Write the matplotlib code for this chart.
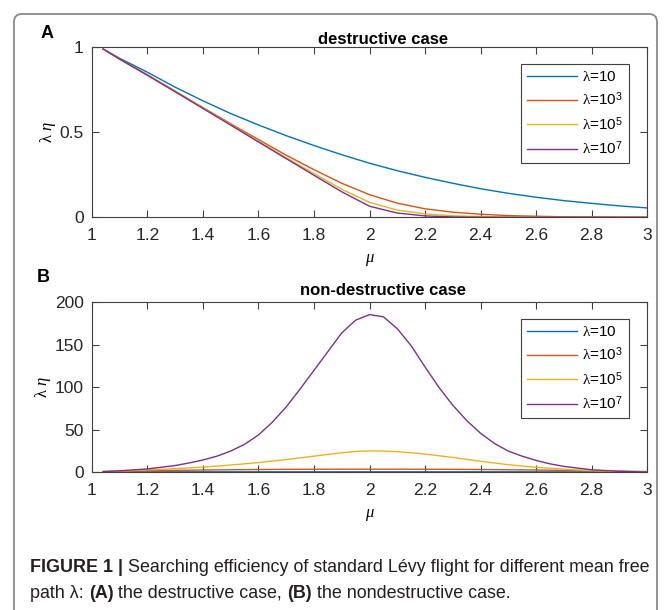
import matplotlib
matplotlib.use("Agg")
import matplotlib.pyplot as plt
from matplotlib.patches import FancyBboxPatch

# values
mu_d = [1.04, 1.1, 1.2, 1.3, 1.4, 1.5, 1.6, 1.7, 1.8, 1.9, 2.0,
        2.1, 2.2, 2.3, 2.4, 2.5, 2.6, 2.7, 2.8, 2.9, 3.0]
d_l1 = [0.99, 0.935, 0.853, 0.765, 0.685, 0.61, 0.543, 0.48, 0.422, 0.368, 0.318,
        0.274, 0.235, 0.2, 0.168, 0.141, 0.118, 0.098, 0.082, 0.067, 0.055]
d_l3 = [0.99, 0.93, 0.838, 0.742, 0.645, 0.55, 0.457, 0.365, 0.28, 0.2, 0.133,
        0.083, 0.05, 0.03, 0.018, 0.01, 0.006, 0.003, 0.002, 0.001, 0.0005]
d_l5 = [0.99, 0.93, 0.836, 0.74, 0.642, 0.545, 0.447, 0.35, 0.257, 0.165, 0.088,
        0.042, 0.02, 0.009, 0.004, 0.001, 0.0, 0.0, 0.0, 0.0, 0.0]
d_l7 = [0.99, 0.93, 0.835, 0.738, 0.64, 0.542, 0.443, 0.345, 0.247, 0.15, 0.065,
        0.025, 0.008, 0.002, 0.0, 0.0, 0.0, 0.0, 0.0, 0.0, 0.0]

mu_nd = [1.04, 1.1, 1.2,
         1.3, 1.35, 1.4, 1.45, 1.5, 1.55, 1.6, 1.65, 1.7, 1.75, 1.8, 1.85, 1.9, 1.95,
         2.0, 2.05, 2.1, 2.15, 2.2, 2.25, 2.3, 2.35, 2.4, 2.45, 2.5, 2.55, 2.6, 2.65, 2.7,
         2.8, 2.9, 3.0]
nd_l1 = [0.6, 0.6, 0.6,
         0.6, 0.6, 0.6, 0.6, 0.6, 0.6, 0.6, 0.6, 0.6, 0.6, 0.6, 0.6, 0.6, 0.6,
         0.6, 0.6, 0.6, 0.6, 0.6, 0.6, 0.6, 0.6, 0.6, 0.6, 0.6, 0.6, 0.55, 0.55, 0.55,
         0.5, 0.5, 0.45]
nd_l3 = [0.9, 1.2, 1.8,
         2.3, 2.5, 2.7, 2.85, 3.0, 3.15, 3.3, 3.4, 3.5, 3.55, 3.6, 3.65, 3.7, 3.7,
         3.7, 3.7, 3.7, 3.65, 3.6, 3.55, 3.5, 3.4, 3.3, 3.15, 3.0, 2.85, 2.7, 2.5, 2.3,
         1.9, 1.4, 0.9]
nd_l5 = [1.0, 1.6, 2.8,
         4.3, 5.2, 6.2, 7.3, 8.6, 10, 11.5, 13.2, 15, 17, 19, 21, 23, 24.5,
         25.2, 25, 24.3, 23, 21.5, 19.5, 17.5, 15.2, 13, 11, 9, 7.4, 6, 4.8, 3.7,
         2, 1, 0.4]
nd_l7 = [0.8, 1.8, 4,
         8, 11, 14.5, 19, 25, 33, 44, 59, 77, 98, 120, 142, 164, 179,
         185.5, 183, 169, 149, 124, 100, 79, 61, 46, 34, 25, 19, 14, 10, 7,
         3, 1.2, 0.3]

labels = [r'$\mathrm{\lambda}$=10', r'$\mathrm{\lambda}$=10$^{\mathsf{3}}$',
          r'$\mathrm{\lambda}$=10$^{\mathsf{5}}$', r'$\mathrm{\lambda}$=10$^{\mathsf{7}}$']
colors = ['#0072BD', '#D95319', '#EDB120', '#7E2F8E']
xticks = [1, 1.2, 1.4, 1.6, 1.8, 2, 2.2, 2.4, 2.6, 2.8, 3]
xticklabels = ['1', '1.2', '1.4', '1.6', '1.8', '2', '2.2', '2.4', '2.6', '2.8', '3']

plt.rcParams['font.family'] = ['Liberation Sans', 'DejaVu Sans']
plt.rcParams['mathtext.fontset'] = 'custom'
plt.rcParams['mathtext.rm'] = 'Liberation Serif'
plt.rcParams['mathtext.it'] = 'Liberation Serif:italic'
plt.rcParams['mathtext.sf'] = 'Liberation Sans'

fig = plt.figure(figsize=(6.7, 6.1), dpi=100)

# outer frame of the figure panel
frame = FancyBboxPatch((14, -30), 643, 610 - 14 + 30,
                       boxstyle="round,pad=0,rounding_size=8",
                       transform=None, facecolor='none', edgecolor='#8a8a8a', lw=1.3)
fig.patches.append(frame)

ax1 = fig.add_axes([0.1373, 0.6438, 0.8284, 0.2787])
ax2 = fig.add_axes([0.1373, 0.2257, 0.8284, 0.2787])

for yv, c, lab in zip([d_l1, d_l3, d_l5, d_l7], colors, labels):
    ax1.plot(mu_d, yv, color=c, lw=1.0, label=lab)
for yv, c, lab in zip([nd_l1, nd_l3, nd_l5, nd_l7], colors, labels):
    ax2.plot(mu_nd, yv, color=c, lw=1.0, label=lab)

ax1.set_ylim(0, 1)
ax1.set_yticks([0, 0.5, 1])
ax1.set_yticklabels(['0', '0.5', '1'])
ax2.set_ylim(0, 200)
ax2.set_yticks([0, 50, 100, 150, 200])

for ax, ttl, tpad in [(ax1, 'destructive case', 2), (ax2, 'non-destructive case', 5)]:
    ax.set_xlim(1, 3)
    ax.set_xticks(xticks)
    ax.set_xticklabels(xticklabels)
    ax.tick_params(direction='in', top=True, right=True, length=5, width=0.8,
                   colors='#404040', labelcolor='#262626', labelsize=12.5)
    ax.tick_params(axis='x', pad=8)
    ax.tick_params(axis='y', pad=6)
    for s in ax.spines.values():
        s.set_color('#404040')
        s.set_linewidth(0.8)
    ax.set_title(ttl, fontsize=12, fontweight='bold', x=0.524, pad=tpad)
    ax.set_xlabel(r'$\mu$', fontsize=12, labelpad=6)
    ax.set_ylabel(r'$\mathrm{\lambda}\ \eta$', fontsize=12, labelpad=1)
    leg = ax.legend(loc='upper right', bbox_to_anchor=(0.9676, 0.902), borderaxespad=0,
                    fontsize=11, fancybox=False, framealpha=1, edgecolor='#404040',
                    handlelength=3.3, handletextpad=0.3, labelspacing=0.42, borderpad=0.4)
    leg.get_frame().set_linewidth(0.8)

fig.text(47 / 670, 1 - 34 / 610, 'A', fontsize=13, fontweight='bold', ha='center', va='center')
fig.text(43 / 670, 1 - 277 / 610, 'B', fontsize=13, fontweight='bold', ha='center', va='center')

# caption with mixed bold / regular pieces
renderer = fig.canvas.get_renderer()


def caption_line(pieces, x0, y0):
    x = x0
    for txt, bold in pieces:
        t = fig.text(x, y0, txt, fontsize=12.9, fontweight='bold' if bold else 'normal',
                     color='#231f20', ha='left', va='center', transform=None)
        bb = t.get_window_extent(renderer=renderer)
        x = bb.x1


caption_line([('FIGURE 1 | ', True),
              ('Searching efficiency of standard Lévy flight for different mean free', False)],
             30, 610 - 567)
caption_line([('path λ: ', False), ('(A)', True), (' the destructive case, ', False),
              ('(B)', True), (' the nondestructive case.', False)],
             30, 610 - 593)

fig.savefig('out.png', dpi=100)
